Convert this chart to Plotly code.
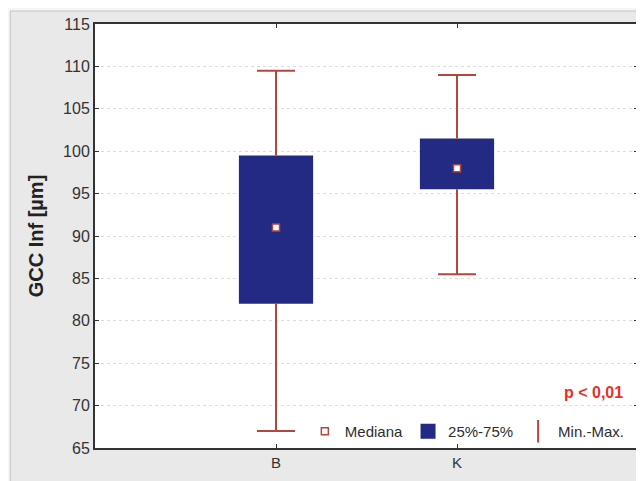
import plotly.graph_objects as go

categories = ["B", "K"]
q1 = [82.0, 95.5]
q3 = [99.5, 101.5]
medians = [91.0, 98.0]
mins = [67.0, 85.5]
maxs = [109.5, 109.0]
y_ticks = [65, 70, 75, 80, 85, 90, 95, 100, 105, 110, 115]

BOX = "#232a84"
WHISK = "#b3473d"
xpos = list(range(len(categories)))
box_w = 0.41
cap = 0.105

fig = go.Figure()

fig.add_trace(go.Bar(
    x=xpos, base=q1, y=[b - a for a, b in zip(q1, q3)], width=box_w,
    marker=dict(color=BOX, line=dict(width=0)), name="25%-75%", showlegend=False,
))

wx, wy = [], []
for x, lo, hi, a, b in zip(xpos, mins, maxs, q1, q3):
    wx += [x, x, None, x, x, None, x - cap, x + cap, None, x - cap, x + cap, None]
    wy += [b, hi, None, a, lo, None, hi, hi, None, lo, lo, None]
fig.add_trace(go.Scatter(x=wx, y=wy, mode="lines", line=dict(color=WHISK, width=2),
                         showlegend=False, hoverinfo="skip"))

fig.add_trace(go.Scatter(
    x=xpos, y=medians, mode="markers",
    marker=dict(symbol="square", size=7, color="white", line=dict(color=WHISK, width=1.5)),
    showlegend=False,
))

# legend entries
fig.add_trace(go.Scatter(x=[None], y=[None], mode="markers", name="Mediana",
                         marker=dict(symbol="square", size=7, color="white",
                                     line=dict(color=WHISK, width=1.5))))
fig.add_trace(go.Scatter(x=[None], y=[None], mode="markers", name="25%-75%",
                         marker=dict(symbol="square", size=15, color=BOX, line=dict(width=0))))
fig.add_trace(go.Scatter(x=[None], y=[None], mode="markers", name="Min.-Max.",
                         marker=dict(symbol="line-ns-open", size=16, color=WHISK,
                                     line=dict(color=WHISK, width=2))))

fig.add_annotation(text="<b>p &lt; 0,01</b>", xref="paper", yref="paper", x=0.976, y=0.132,
                   xanchor="right", yanchor="middle", showarrow=False,
                   font=dict(color="#e8302a", size=16))

# panel frame (outer strip)
fig.add_shape(type="rect", xref="paper", yref="paper", x0=-0.17, x1=-0.156, y0=-0.1, y1=1.1,
              fillcolor="#f6f6f6", line=dict(width=0), layer="below")
fig.add_shape(type="rect", xref="paper", yref="paper", x0=-0.17, x1=1.02, y0=1.0307, y1=1.1,
              fillcolor="#f6f6f6", line=dict(width=0), layer="below")
fig.add_shape(type="line", xref="paper", yref="paper", x0=-0.156, x1=-0.156, y0=-0.1, y1=1.0307,
              line=dict(color="#c4c4c4", width=1), layer="below")
fig.add_shape(type="line", xref="paper", yref="paper", x0=-0.156, x1=1.02, y0=1.0307, y1=1.0307,
              line=dict(color="#c4c4c4", width=1), layer="below")

fig.update_layout(
    width=636, height=473,
    margin=dict(l=87, r=4, t=16, b=33),
    paper_bgcolor="#e9e9e9", plot_bgcolor="white",
    font=dict(family="Liberation Sans, Arial, sans-serif", color="#333333", size=15),
    showlegend=True,
    legend=dict(orientation="h", x=0.985, xanchor="right", y=0.0, yanchor="bottom",
                bgcolor="rgba(255,255,255,0)", font=dict(size=15, color="#2e2e2e"),
                itemwidth=30, tracegroupgap=0),
    barmode="overlay",
)
fig.update_xaxes(range=[-1, 2], tickvals=xpos, ticktext=categories, showgrid=False,
                 zeroline=False, showline=True, linecolor="#333333", linewidth=2,
                 mirror="ticks", ticks="inside", ticklen=4, tickcolor="#333333",
                 tickfont=dict(size=15))
fig.update_yaxes(range=[65, 115], tickvals=y_ticks, showgrid=True, gridcolor="#dcdcdc",
                 griddash="dot", gridwidth=1, zeroline=False, showline=True,
                 linecolor="#333333", linewidth=2, mirror="ticks", ticks="inside",
                 ticklen=4, tickcolor="#333333", tickfont=dict(size=16),
                 title=dict(text="<b>GCC Inf [µm]</b>", font=dict(size=20, color="#222222"),
                            standoff=14))

fig.write_html("out.html")
